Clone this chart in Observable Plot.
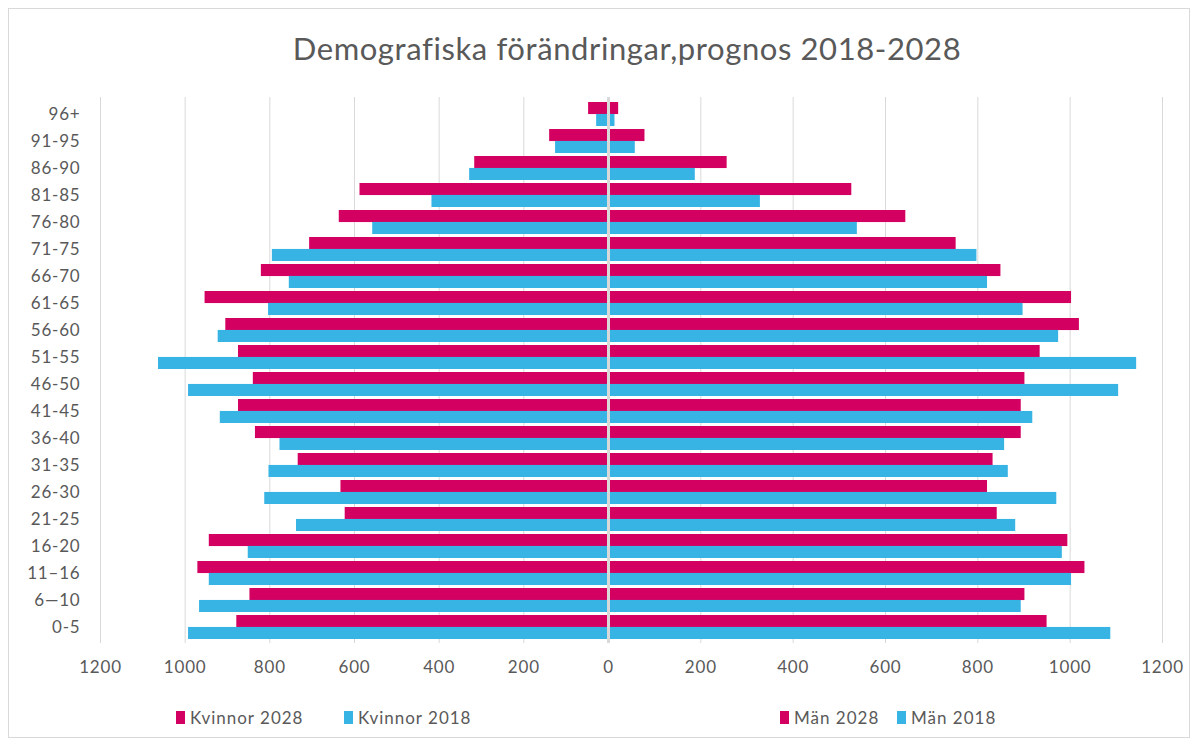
<!DOCTYPE html>
<html>
<head>
<meta charset="utf-8">
<script src="https://cdn.jsdelivr.net/npm/d3@7"></script>
<script src="https://cdn.jsdelivr.net/npm/@observablehq/plot@0.6"></script>
<style>
  html, body { margin: 0; padding: 0; background: #fff; }
  #wrap { position: relative; width: 1200px; height: 747px; overflow: hidden; font-family: Lato, "Open Sans", sans-serif; color: #595959; }
  #border { position: absolute; left: 8px; top: 8px; width: 1182px; height: 730px; border: 1px solid #d9d9d9; box-sizing: border-box; pointer-events: none; }
  #title { position: absolute; left: 0; top: 0; width: 1254px; height: 88px; line-height: 96px; text-align: center; font-size: 31px; letter-spacing: 0.6px; color: #595959; }
  #chart { position: absolute; left: 0; top: 88px; }
  #legend { position: absolute; left: 0; top: 706px; width: 1200px; height: 24px; font-size: 17px; }
  .item { position: absolute; top: 0; display: flex; align-items: center; height: 22px; letter-spacing: 1px; }
  .sw { width: 9px; height: 13px; margin-right: 5px; display: inline-block; }
</style>
</head>
<body>
<div id="wrap">
  <div id="title">Demografiska förändringar,prognos 2018-2028</div>
  <div id="chart"></div>
  <div id="legend"></div>
  <div id="border"></div>
</div>
<script>
// Age groups, top to bottom
const ages = ["96+", "91-95", "86-90", "81-85", "76-80", "71-75", "66-70", "61-65", "56-60", "51-55",
  "46-50", "41-45", "36-40", "31-35", "26-30", "21-25", "16-20", "11–16", "6—10", "0-5"];

// Women (Kvinnor) – drawn to the left
const kvinnor2028 = [47, 139, 316, 587, 636, 706, 820, 953, 904, 874,
  839, 874, 834, 733, 632, 622, 943, 970, 847, 878];
const kvinnor2018 = [28, 125, 328, 417, 557, 794, 754, 803, 922, 1063,
  992, 917, 776, 802, 812, 737, 851, 943, 966, 992];

// Men (Män) – drawn to the right
const man2028 = [22, 79, 257, 527, 644, 753, 850, 1003, 1020, 935,
  902, 894, 894, 833, 821, 842, 995, 1032, 902, 950];
const man2018 = [14, 58, 188, 329, 539, 798, 821, 898, 975, 1144,
  1105, 919, 858, 866, 971, 882, 983, 1003, 894, 1088];

const xTicks = [-1200, -1000, -800, -600, -400, -200, 0, 200, 400, 600, 800, 1000, 1200];

const series = [
  {key: "Kvinnor 2028", values: kvinnor2028, sign: -1, year: 2028},
  {key: "Kvinnor 2018", values: kvinnor2018, sign: -1, year: 2018},
  {key: "Män 2028", values: man2028, sign: 1, year: 2028},
  {key: "Män 2018", values: man2018, sign: 1, year: 2018}
];

const rows = series.flatMap(s => ages.map((age, i) => ({age, series: s.key, year: s.year, value: s.sign * s.values[i]})));

const magenta = "#D30062";
const blue = "#37B3E4";
const grid = "#d9d9d9";

// The left (women) half of the original chart is drawn slightly narrower than the right half
const k = 508 / 554;

const H = 595, mTop = 9, mBottom = 40;
const step = (H - mTop - mBottom) / (ages.length - 0.12 + 0.24);
const half = step * (1 - 0.12) / 2;

const chart = Plot.plot({
  width: 1200,
  height: H,
  marginTop: mTop,
  marginBottom: mBottom,
  marginLeft: 100,
  marginRight: 38,
  style: {fontFamily: "Lato, 'Open Sans', sans-serif", fontSize: "17px", color: "#595959", background: "transparent"},
  x: {transform: v => (v < 0 ? v * k : v), domain: [-1200 * k, 1200], label: null},
  y: {domain: ages, padding: 0.12, label: null},
  marks: [
    Plot.gridX(xTicks, {stroke: grid, strokeOpacity: 1, strokeWidth: 1}),
    Plot.barX(rows.filter(d => d.year === 2028), {x: "value", y: "age", fill: magenta, insetBottom: half}),
    Plot.barX(rows.filter(d => d.year === 2018), {x: "value", y: "age", fill: blue, insetTop: half}),
    Plot.ruleX([0], {stroke: grid, strokeWidth: 3}),
    Plot.axisY({tickSize: 0, tickPadding: 20, fontSize: 17, label: null}),
    Plot.axisX(xTicks, {tickSize: 0, tickPadding: 17, fontSize: 17, label: null, tickFormat: d => String(Math.abs(d))})
  ]
});
d3.select(chart).selectAll("text").style("letter-spacing", "0.8px");
document.getElementById("chart").appendChild(chart);

// Legend
const legendPos = [{key: "Kvinnor 2028", color: magenta, x: 176}, {key: "Kvinnor 2018", color: blue, x: 344},
  {key: "Män 2028", color: magenta, x: 780}, {key: "Män 2018", color: blue, x: 897}];
const legend = d3.select("#legend");
legendPos.forEach(l => {
  const it = legend.append("div").attr("class", "item").style("left", l.x + "px");
  it.append("span").attr("class", "sw").style("background", l.color);
  it.append("span").text(l.key);
});
</script>
</body>
</html>
